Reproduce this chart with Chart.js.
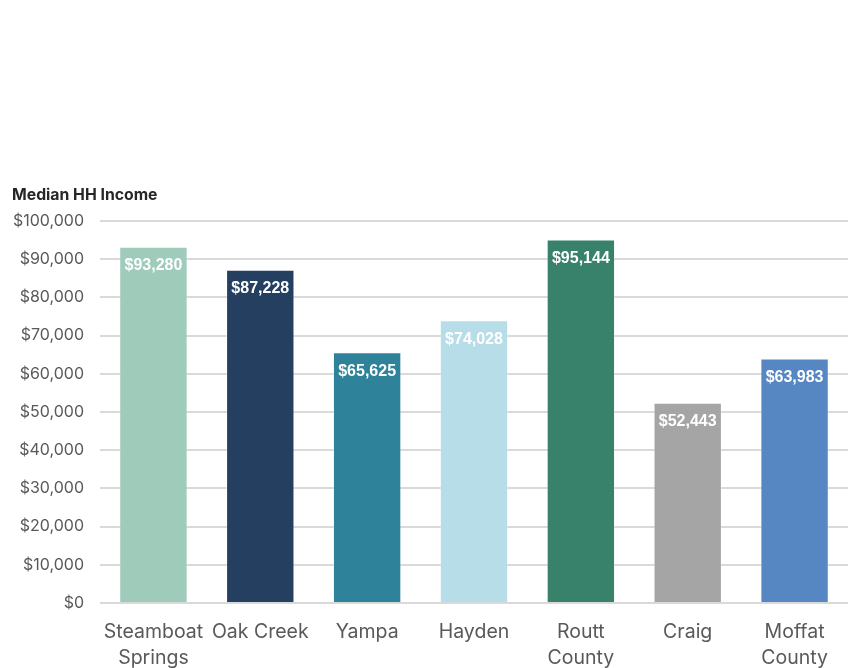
<!DOCTYPE html>
<html>
<head>
<meta charset="utf-8">
<script src="https://cdn.jsdelivr.net/npm/chart.js@4/dist/chart.umd.min.js"></script>
<style>
  html, body { margin: 0; padding: 0; background: #fff; }
  #wrap { width: 848px; height: 668px; position: relative; }
</style>
</head>
<body>
<div id="wrap"><canvas id="chart"></canvas></div>
<script>
const places = [['Steamboat', 'Springs'], 'Oak Creek', 'Yampa', 'Hayden', ['Routt', 'County'], 'Craig', ['Moffat', 'County']];
const incomes = [93280, 87228, 65625, 74028, 95144, 52443, 63983];
const barColors = ['#9fcbbb', '#243f60', '#2e829a', '#b7dde8', '#38826b', '#a5a5a5', '#5687c2'];
const yTicks = [0, 10000, 20000, 30000, 40000, 50000, 60000, 70000, 80000, 90000, 100000];

const money = (v) => '$' + v.toLocaleString('en-US');

// draws the value inside the top of each bar
const valueLabels = {
  id: 'valueLabels',
  afterDatasetsDraw(chart) {
    const ctx = chart.ctx;
    const meta = chart.getDatasetMeta(0);
    ctx.save();
    ctx.font = 'bold 16px "Liberation Sans", Arial, sans-serif';
    ctx.fillStyle = '#ffffff';
    ctx.textAlign = 'center';
    ctx.textBaseline = 'middle';
    meta.data.forEach((bar, i) => {
      ctx.fillText(money(incomes[i]), bar.x, bar.y + 19);
    });
    ctx.restore();
  }
};

new Chart(document.getElementById('chart'), {
  type: 'bar',
  data: {
    labels: places,
    datasets: [{
      data: incomes,
      backgroundColor: barColors,
      borderColor: 'rgba(255,255,255,0.35)',
      borderWidth: 1,
      categoryPercentage: 1,
      barPercentage: 0.64,
    }],
  },
  options: {
    responsive: true,
    maintainAspectRatio: false,
    animation: false,
    layout: { padding: { top: 186, left: 12, right: 0, bottom: 0 } },
    plugins: {
      legend: { display: false },
      tooltip: { enabled: false },
      title: {
        display: true,
        text: 'Median HH Income',
        align: 'start',
        color: '#262626',
        font: { family: 'Inter, "Noto Sans", sans-serif', size: 15.8, weight: 'bold' },
        padding: { top: 0, bottom: 16 },
      },
    },
    scales: {
      x: {
        grid: { display: false },
        border: { display: false },
        afterFit: (axis) => { axis.height = 65; axis.paddingLeft = 0; axis.paddingRight = 0; },
        ticks: {
          color: '#595959',
          font: { family: 'Inter, "Noto Sans", sans-serif', size: 19.5, lineHeight: 1.33 },
          padding: 8,
          maxRotation: 0,
          autoSkip: false,
        },
      },
      y: {
        min: 0,
        max: 100000,
        afterBuildTicks: (axis) => { axis.ticks = yTicks.map((v) => ({ value: v })); },
        afterFit: (axis) => { axis.width = 88; },
        grid: { color: '#d9d9d9', lineWidth: 2, drawTicks: false },
        border: { display: false },
        ticks: {
          color: '#595959',
          font: { family: 'Inter, "Noto Sans", sans-serif', size: 16 },
          padding: 16,
          callback: (v) => money(v),
        },
      },
    },
  },
  plugins: [valueLabels],
});
</script>
</body>
</html>
